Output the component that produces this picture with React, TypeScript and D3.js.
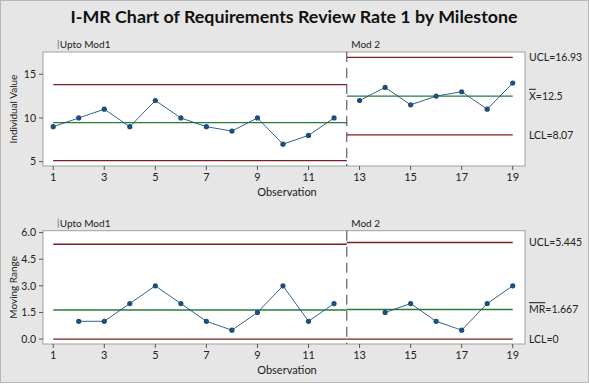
import React from "react";
import * as d3 from "d3";

const title = "I-MR Chart of Requirements Review Rate 1 by Milestone";
const stageNames = ["Upto Mod1", "Mod 2"];
const observations = d3.range(1, 20);
const stageOf = [0,0,0,0,0,0,0,0,0,0,0,0,1,1,1,1,1,1,1];
const individualValues = [9, 10, 11, 9, 12, 10, 9, 8.5, 10, 7, 8, 10, 12, 13.5, 11.5, 12.5, 13, 11, 14];
const xTicks = [1, 3, 5, 7, 9, 11, 13, 15, 17, 19];
const iTicks = [5, 10, 15];
const mrTicks = [0, 1.5, 3, 4.5, 6];
const stageBreak = 12.5;

const W = 589, H = 384;
const FONT = "Lato, 'Noto Sans', sans-serif";
const RED = "#7a1f23";
const GREEN = "#2a7a3a";
const BLUE = "#1d4f7c";
const FRAME = "#a0a0a0";

// compute statistics per stage
const stages = stageNames.map((name, s) => {
  const idx = observations.map((o, i) => i).filter(i => stageOf[i] === s);
  const vals = idx.map(i => individualValues[i]);
  const mrs = idx.slice(1).map(i => Math.abs(individualValues[i] - individualValues[i - 1]));
  const mean = d3.mean(vals) as number;
  const mrBar = d3.mean(mrs) as number;
  const start = observations[idx[0]];
  const end = observations[idx[idx.length - 1]];
  return {
    name, idx, mean, mrBar,
    ucl: mean + 2.66 * mrBar, lcl: mean - 2.66 * mrBar,
    mrUcl: 3.267 * mrBar, mrLcl: 0,
    x0: s === 0 ? start : stageBreak, x1: s === 0 ? stageBreak : end,
    labelAt: s === 0 ? start : stageBreak,
  };
});

const x = d3.scaleLinear().domain([0.6, 19.48]).range([43, 525]);
const yI = d3.scaleLinear().domain([4.5, 17.55]).range([166, 52]);
const yM = d3.scaleLinear().domain([-0.28, 6.11]).range([344, 230.7]);

function Panel({ y, top, bottom, ticks, fmt, ylabel, series, kind }: any) {
  const line = d3.line<any>().x(d => x(d.x)).y(d => y(d.v));
  const last = stages[stages.length - 1];
  const fmtLbl = (v: number, digits: number) => {
    const s = v.toFixed(digits);
    return s.replace(/\.?0+$/, "") || "0";
  };
  return (
    <g>
      <rect x={43} y={top} width={482} height={bottom - top} fill="#fff" stroke={FRAME} strokeWidth={1} />
      {/* y axis */}
      {ticks.map((t: number) => (
        <g key={t}>
          <line x1={39} x2={43} y1={y(t)} y2={y(t)} stroke="#555" />
          <text x={36} y={y(t)} dy="0.35em" textAnchor="end" fontSize={10.5} fill="#222" fontFamily={FONT}>{fmt(t)}</text>
        </g>
      ))}
      <text transform={`translate(16.5,${(top + bottom) / 2}) rotate(-90)`} textAnchor="middle" fontSize={10} fill="#222" fontFamily={FONT}>{ylabel}</text>
      {/* x axis */}
      {xTicks.map(t => (
        <g key={t}>
          <line x1={x(t)} x2={x(t)} y1={bottom} y2={bottom + 4} stroke="#555" />
          <text x={x(t)} y={bottom + 15} textAnchor="middle" fontSize={11} fill="#222" fontFamily={FONT}>{t}</text>
        </g>
      ))}
      <text x={287} y={bottom + 30} textAnchor="middle" fontSize={11} fill="#222" fontFamily={FONT}>Observation</text>
      {/* stage labels */}
      {stages.map((s, i) => (
        <g key={i}>
          {i === 0 && <line x1={x(s.labelAt) + 5} x2={x(s.labelAt) + 5} y1={top - 12} y2={top - 3} stroke="#8a6a50" strokeWidth={0.8} />}
          <text x={x(s.labelAt) + (i === 0 ? 6.5 : 4.5)} y={top - 4} fontSize={10} fill="#222" fontFamily={FONT}>{s.name}</text>
        </g>
      ))}
      {/* control lines */}
      {stages.map((s, i) => {
        const c = kind === "I" ? [s.ucl, s.mean, s.lcl] : [s.mrUcl, s.mrBar, s.mrLcl];
        return (
          <g key={i}>
            <line x1={x(s.x0)} x2={x(s.x1)} y1={y(c[0])} y2={y(c[0])} stroke={RED} strokeWidth={1.3} />
            <line x1={x(s.x0)} x2={x(s.x1)} y1={y(c[1])} y2={y(c[1])} stroke={GREEN} strokeWidth={1.3} />
            <line x1={x(s.x0)} x2={x(s.x1)} y1={y(c[2])} y2={y(c[2])} stroke={RED} strokeWidth={1.3} />
          </g>
        );
      })}
      <line x1={x(stageBreak)} x2={x(stageBreak)} y1={top} y2={bottom} stroke="#3b3b55" strokeWidth={1} strokeDasharray="10,6" />
      {/* data */}
      {series.map((seg: any[], i: number) => (
        <g key={i}>
          <path d={line(seg) || ""} fill="none" stroke={BLUE} strokeWidth={0.9} />
          {seg.map((d: any, j: number) => (
            <circle key={j} cx={x(d.x)} cy={y(d.v)} r={2.6} fill={BLUE} />
          ))}
        </g>
      ))}
      {/* right labels */}
      {kind === "I" ? (
        <g fontSize={10.5} fill="#222" fontFamily={FONT}>
          <text x={529} y={y(last.ucl)} dy="0.35em">UCL={fmtLbl(last.ucl, 2)}</text>
          <text x={529} y={y(last.mean)} dy="0.35em"><tspan style={{ textDecoration: "overline" }}>X</tspan>={fmtLbl(last.mean, 2)}</text>
          <text x={529} y={y(last.lcl)} dy="0.35em">LCL={fmtLbl(last.lcl, 2)}</text>
        </g>
      ) : (
        <g fontSize={10.5} fill="#222" fontFamily={FONT}>
          <text x={529} y={y(last.mrUcl)} dy="0.35em">UCL={fmtLbl(last.mrUcl, 3)}</text>
          <text x={529} y={y(last.mrBar)} dy="0.35em"><tspan style={{ textDecoration: "overline" }}>MR</tspan>={fmtLbl(last.mrBar, 3)}</text>
          <text x={529} y={y(last.mrLcl)} dy="0.35em">LCL={fmtLbl(last.mrLcl, 0)}</text>
        </g>
      )}
    </g>
  );
}

export default function App() {
  const iSeries = stages.map(s => s.idx.map(i => ({ x: observations[i], v: individualValues[i] })));
  const mrSeries = stages.map(s => s.idx.slice(1).map(i => ({ x: observations[i], v: Math.abs(individualValues[i] - individualValues[i - 1]) })));
  return (
    <svg width={W} height={H} style={{ position: "absolute", left: 0, top: 0 }}>
      <rect x={0.5} y={0.5} width={W - 1} height={H - 2} fill="#e6e6e6" stroke="#b8b8b8" />
      <text x={294} y={23} textAnchor="middle" fontSize={17} fontWeight="bold" fill="#111" fontFamily={FONT} textLength={447} lengthAdjust="spacingAndGlyphs">{title}</text>
      <Panel y={yI} top={52} bottom={166} ticks={iTicks} fmt={(t: number) => String(t)} ylabel="Individual Value" series={iSeries} kind="I" />
      <Panel y={yM} top={230.7} bottom={344} ticks={mrTicks} fmt={(t: number) => t.toFixed(1)} ylabel="Moving Range" series={mrSeries} kind="MR" />
    </svg>
  );
}
